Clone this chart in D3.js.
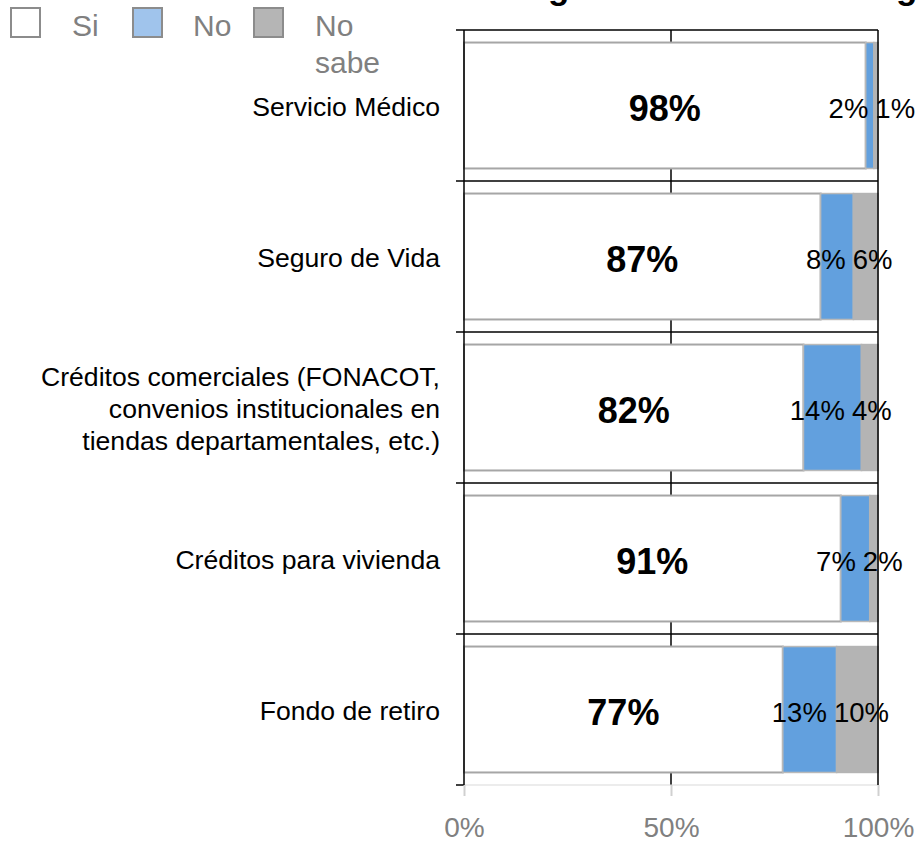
<!DOCTYPE html>
<html>
<head>
<meta charset="utf-8">
<script src="https://cdn.jsdelivr.net/npm/d3@7"></script>
<style>
  html, body { margin: 0; padding: 0; background: #fff; }
  svg { display: block; font-family: "Liberation Sans", Arial, sans-serif; }
</style>
</head>
<body>
<svg id="chart" width="917" height="842"></svg>
<script>
// ---- data ----
const categories = ["Servicio Médico", "Seguro de Vida", "Créditos comerciales", "Créditos para vivienda", "Fondo de retiro"];
const categoryLines = [
  ["Servicio Médico"],
  ["Seguro de Vida"],
  ["Créditos comerciales (FONACOT,", "convenios institucionales en", "tiendas departamentales, etc.)"],
  ["Créditos para vivienda"],
  ["Fondo de retiro"]
];
const seriesNames = ["Si", "No", "No sabe"];
const siValues = [98, 87, 82, 91, 77];
const noValues = [2, 8, 14, 7, 13];
const noSabeValues = [1, 6, 4, 2, 10];
const xTickValues = [0, 0.5, 1];
const titleText = "Otorgamiento en este cargo";

// ---- styles ----
const barFill = ["#ffffff", "#62a0de", "#b4b4b4"];
const barStroke = ["#a6a6a6", "#b9b9b9", "#b4b4b4"];
const legendFill = ["#ffffff", "#a0c4ec", "#b5b5b5"];

const svg = d3.select("#chart");
const rows = categories.map((c, i) => ({cat: c, Si: siValues[i], No: noValues[i], "No sabe": noSabeValues[i]}));
const stacked = d3.stack().keys(seriesNames).offset(d3.stackOffsetExpand)(rows);

const x = d3.scaleLinear().domain([0, 1]).range([464, 878]);
const y = d3.scaleBand().domain(categories).range([30, 785]).paddingInner(0.166).paddingOuter(0.083);
const step = y.step();
const bandTop = c => y(c) - step * y.paddingInner() / 2;
const bandMid = c => y(c) + y.bandwidth() / 2;

// title (mostly cut off at the top, as in the reference)
svg.append("text").attr("x", 474).attr("y", -1)
  .attr("font-size", 35).attr("font-weight", "bold").attr("fill", "#000")
  .text(titleText);

// 50% grid line (behind bars)
svg.append("line").attr("x1", x(0.5)).attr("x2", x(0.5)).attr("y1", 30).attr("y2", 785)
  .attr("stroke", "#000").attr("stroke-width", 1.5);

// bars
stacked.forEach((s, si) => {
  svg.append("g").selectAll("rect").data(s).join("rect")
    .attr("x", d => x(d[0]))
    .attr("width", d => x(d[1]) - x(d[0]))
    .attr("y", d => y(d.data.cat))
    .attr("height", y.bandwidth())
    .attr("fill", barFill[si])
    .attr("stroke", barStroke[si])
    .attr("stroke-width", si === 0 ? 2 : 1.5);
});

// horizontal band lines (category gridlines) and ticks
const catAxis = svg.append("g");
categories.forEach(c => {
  catAxis.append("line").attr("x1", 456).attr("x2", x(1)).attr("y1", bandTop(c)).attr("y2", bandTop(c))
    .attr("stroke", "#000").attr("stroke-width", 1.5);
});
// bottom axis line (light) and last tick
svg.append("line").attr("x1", x(0)).attr("x2", x(1)).attr("y1", 785).attr("y2", 785)
  .attr("stroke", "#d9d9d9").attr("stroke-width", 1);
svg.append("line").attr("x1", 456).attr("x2", x(0)).attr("y1", 785).attr("y2", 785)
  .attr("stroke", "#000").attr("stroke-width", 1.5);

// 0% and 100% lines on top
[0, 1].forEach(v => {
  svg.append("line").attr("x1", x(v)).attr("x2", x(v)).attr("y1", 30).attr("y2", 785)
    .attr("stroke", "#000").attr("stroke-width", 1.5);
});

// x axis ticks and labels
const xAxis = d3.axisBottom(x).tickValues(xTickValues).tickFormat(d3.format(".0%")).tickSize(11).tickPadding(21);
const gx = svg.append("g").attr("transform", "translate(0,785)").call(xAxis);
gx.select(".domain").remove();
gx.selectAll(".tick line").attr("stroke", "#d0d0d0").attr("stroke-width", 2);
gx.selectAll(".tick text").attr("font-size", 28).attr("fill", "#808080")
  .attr("font-family", "Liberation Sans, Arial, sans-serif").attr("dy", "0.71em");

// category labels
categories.forEach((c, i) => {
  const lines = categoryLines[i];
  const lh = 31.7;
  const first = bandMid(c) + 10.5 - (lines.length - 1) / 2 * lh;
  const t = svg.append("text").attr("text-anchor", "end").attr("font-size", 26.6).attr("fill", "#000");
  lines.forEach((ln, k) => t.append("tspan").attr("x", 440).attr("y", first + k * lh).text(ln));
});

// value labels
const fmt = v => v + "%";
categories.forEach((c, i) => {
  const siSeg = stacked[0][i];
  svg.append("text").attr("x", (x(siSeg[0]) + x(siSeg[1])) / 2).attr("y", bandMid(c))
    .attr("dy", "0.42em").attr("text-anchor", "middle")
    .attr("font-size", 36).attr("font-weight", "bold").attr("fill", "#000")
    .text(fmt(siValues[i]));
  // No and No sabe labels laid out side by side, centred on the non-Si part
  const t1 = svg.append("text").attr("font-size", 27.5).attr("fill", "#000").attr("y", bandMid(c)).attr("dy", "0.45em").text(fmt(noValues[i]));
  const t2 = svg.append("text").attr("font-size", 27.5).attr("fill", "#000").attr("y", bandMid(c)).attr("dy", "0.45em").text(fmt(noSabeValues[i]));
  const w1 = t1.node().getComputedTextLength();
  const w2 = t2.node().getComputedTextLength();
  const gap = 7;
  const total = w1 + gap + w2;
  const centre = (x(stacked[1][i][0]) + x(1)) / 2;
  const left = Math.min(centre - total / 2, 917 - total);
  t1.attr("x", left);
  t2.attr("x", left + w1 + gap);
});

// legend
const legendX = [11, 133, 254];
const legendTextX = [72, 193, 315];
const legendLines = [["Si"], ["No"], ["No", "sabe"]];
seriesNames.forEach((s, i) => {
  svg.append("rect").attr("x", legendX[i]).attr("y", 8).attr("width", 29).attr("height", 29)
    .attr("fill", legendFill[i]).attr("stroke", "#8c8c8c").attr("stroke-width", 2);
  const t = svg.append("text").attr("font-size", 30).attr("fill", "#808080");
  legendLines[i].forEach((ln, k) => t.append("tspan").attr("x", legendTextX[i]).attr("y", 36 + k * 37).text(ln));
});
</script>
</body>
</html>
